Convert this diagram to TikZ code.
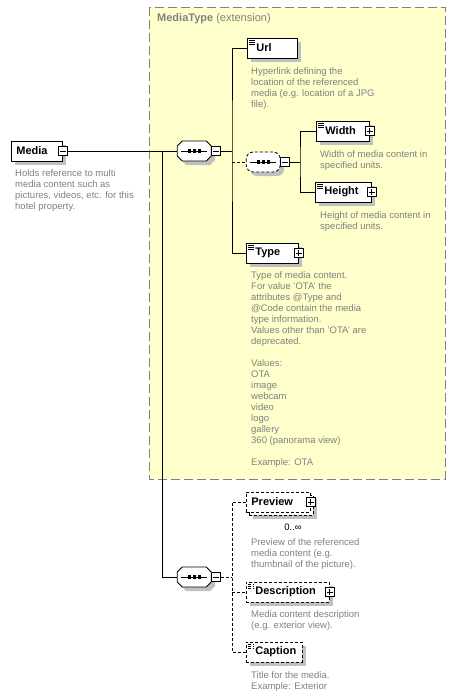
\documentclass[tikz,border=0pt]{standalone}
\usepackage{fontspec}
\setmainfont{Liberation Sans}
\usepackage{tikz}
\usetikzlibrary{positioning}
\usetikzlibrary{shadows}
\definecolor{descgray}{RGB}{128,128,128}
\definecolor{shadowgray}{RGB}{192,192,192}
\definecolor{typeyellow}{RGB}{255,255,204}
\newcommand\descfont{\fontsize{9.5}{11}\selectfont}
\newcommand\labelfont{\fontsize{11}{13}\selectfont\bfseries}
\tikzset{
	boxShadow/.style={drop shadow={shadow xshift=4pt, shadow yshift=-4pt, fill=shadowgray, opacity=1}},
	elemBox/.style={draw, fill=white, line width=0.8pt, anchor=west, inner sep=0pt,
		minimum height=20pt, text width=#1, align=left, font=\labelfont, boxShadow,
		execute at begin node={\hspace*{5pt}}},
	withIcon/.style={execute at begin node={\hspace*{4pt}},
		path picture={
			\foreach \k in {2.5,4.5,6.5}
				\draw[line width=0.6pt] ([xshift=2pt, yshift=-\k pt]path picture bounding box.north west) -- ++(6pt,0);
		}},
	optBox/.style={dash pattern=on 3pt off 2pt},
	multiBox/.style={drop shadow={shadow xshift=7pt, shadow yshift=-7pt, fill=shadowgray, opacity=1},
		copy shadow={shadow xshift=3pt, shadow yshift=-3pt, draw, fill=white, line width=0.8pt, dash pattern=on 3pt off 2pt}},
	symBox/.style={draw, fill=white, line width=0.8pt, minimum size=9pt, inner sep=0pt},
	minusSym/.style={symBox, path picture={
			\draw[line width=0.8pt] ([xshift=1.5pt]path picture bounding box.west) -- ([xshift=-1.5pt]path picture bounding box.east);
		}},
	plusSym/.style={symBox, path picture={
			\draw[line width=0.8pt] ([xshift=1.5pt]path picture bounding box.west) -- ([xshift=-1.5pt]path picture bounding box.east);
			\draw[line width=0.8pt] ([yshift=-1.5pt]path picture bounding box.north) -- ([yshift=1.5pt]path picture bounding box.south);
		}},
	seqSlot/.style={minimum width=34pt, minimum height=20pt, inner sep=0pt, anchor=west},
	descText/.style={anchor=north west, inner sep=0pt, align=left, text=descgray, font=\descfont},
	typeFrame/.style={fill=typeyellow, draw=descgray, line width=0.8pt, dash pattern=on 9pt off 4pt},
	conn/.style={line width=0.8pt},
	optConn/.style={line width=0.8pt, dash pattern=on 3pt off 2pt}
}
\tikzset{
	seqDots/.pic={
		\draw[line width=0.8pt] (-13,0) -- (13,0);
		\foreach \d in {-5,0,5}
			\fill (\d-1.6,-1.6) rectangle (\d+1.6,1.6);
	}
}
\tikzset{
	seqMark/.pic={
		\fill[shadowgray, shift={(4,4)}] (-17,-5) -- (-12,-10) -- (12,-10) -- (17,-5) -- (17,5) -- (12,10) -- (-12,10) -- (-17,5) -- cycle;
		\draw[fill=white, line width=0.8pt] (-17,-5) -- (-12,-10) -- (12,-10) -- (17,-5) -- (17,5) -- (12,10) -- (-12,10) -- (-17,5) -- cycle;
		\pic {seqDots};
	}
}
\tikzset{
	optSeqMark/.pic={
		\fill[shadowgray, rounded corners=7pt] (-13,-6) rectangle (21,14);
		\draw[fill=white, line width=0.8pt, dash pattern=on 3pt off 2pt, rounded corners=7pt] (-17,-10) rectangle (17,10);
		\pic {seqDots};
	}
}

\begin{document}
\begin{tikzpicture}[x=1pt,y=-1pt]
	\useasboundingbox (0,0) rectangle (456,696);
	% complex type frame
	\draw[typeFrame] (149,7) rectangle (445,479);
	\node[anchor=west, inner sep=0pt, text=descgray, font=\fontsize{11}{13}\selectfont] (title) at (157,19) {\textbf{MediaType} (extension)};

	% root element
	\node[elemBox=51pt] (media) at (11,151) {Media};
	\node[minusSym] (mediam) at (media.east) {};
	\node[descText] (mediad) at (15,169.5) {Holds reference to multi\\media content such as\\pictures, videos, etc. for this\\hotel property.};

	% sequences
	\node[seqSlot] (seqa) at (177,151) {};
	\pic at (seqa) {seqMark};
	\node[minusSym, right=0pt of seqa] (seqam) {};
	\node[seqSlot] (seqc) at (246,162) {};
	\pic at (seqc) {optSeqMark};
	\node[minusSym, right=0pt of seqc] (seqcm) {};
	\node[seqSlot] (seqb) at (177,577) {};
	\pic at (seqb) {seqMark};
	\node[minusSym, right=0pt of seqb] (seqbm) {};

	% elements of MediaType
	\node[elemBox=50pt, withIcon] (url) at (247,48) {Url};
	\node[descText] (urld) at (251,67.5) {Hyperlink defining the\\location of the referenced\\media (e.g. location of a JPG\\file).};
	\node[elemBox=53pt, withIcon] (width) at (316,131) {Width};
	\node[plusSym] (widthp) at (width.east) {};
	\node[descText] (widthd) at (320,150.5) {Width of media content in\\specified units.};
	\node[elemBox=56pt, withIcon] (height) at (315,192) {Height};
	\node[plusSym] (heightp) at (height.east) {};
	\node[descText] (heightd) at (320,211.5) {Height of media content in\\specified units.};
	\node[elemBox=52pt, withIcon] (type) at (246,253) {Type};
	\node[plusSym] (typep) at (type.east) {};
	\node[descText] (typed) at (251,271.5) {Type of media content.\\For value 'OTA' the\\attributes @Type and\\@Code contain the media\\type information.\\Values other than 'OTA' are\\deprecated.\\[11pt]Values:\\OTA\\image\\webcam\\video\\logo\\gallery\\360 (panorama view)\\[11pt]Example: OTA};

	% extra elements
	\node[elemBox=64pt, optBox, multiBox] (preview) at (246,502) {Preview};
	\node[plusSym] (previewp) at (preview.east) {};
	\node[inner sep=0pt, font=\descfont] (previewn) at (293,527) {0..∞};
	\node[descText] (previewd) at (251,538.5) {Preview of the referenced\\media content (e.g.\\thumbnail of the picture).};
	\node[elemBox=83pt, withIcon, optBox] (description) at (246,592) {Description};
	\node[plusSym] (descriptionp) at (description.east) {};
	\node[descText] (descriptiond) at (251,610.5) {Media content description\\(e.g. exterior view).};
	\node[elemBox=56pt, withIcon, optBox] (caption) at (246,652) {Caption};
	\node[descText] (captiond) at (251,671.5) {Title for the media.\\Example: Exterior};

	% connectors
	\coordinate (busa) at (162,151);
	\coordinate (busb) at (232,151);
	\coordinate (busc) at (300,162);
	\coordinate (busd) at (232,577);
	\draw[conn] (mediam.east) -- (seqa.west);
	\draw[conn] (busa) |- (seqb.west);
	\draw[conn] (seqam.east) -- (busb);
	\draw[conn] (url.west) -| (busb) |- (type.west);
	\draw[optConn] (busb |- seqc.west) -- (seqc.west);
	\draw[conn] (seqcm.east) -- (busc);
	\draw[conn] (width.west) -| (busc) |- (height.west);
	\draw[optConn] (seqbm.east) -- (busd);
	\draw[optConn] (preview.west) -| (busd) |- (caption.west);
	\draw[optConn] (busd |- description.west) -- (description.west);
\end{tikzpicture}
\end{document}
